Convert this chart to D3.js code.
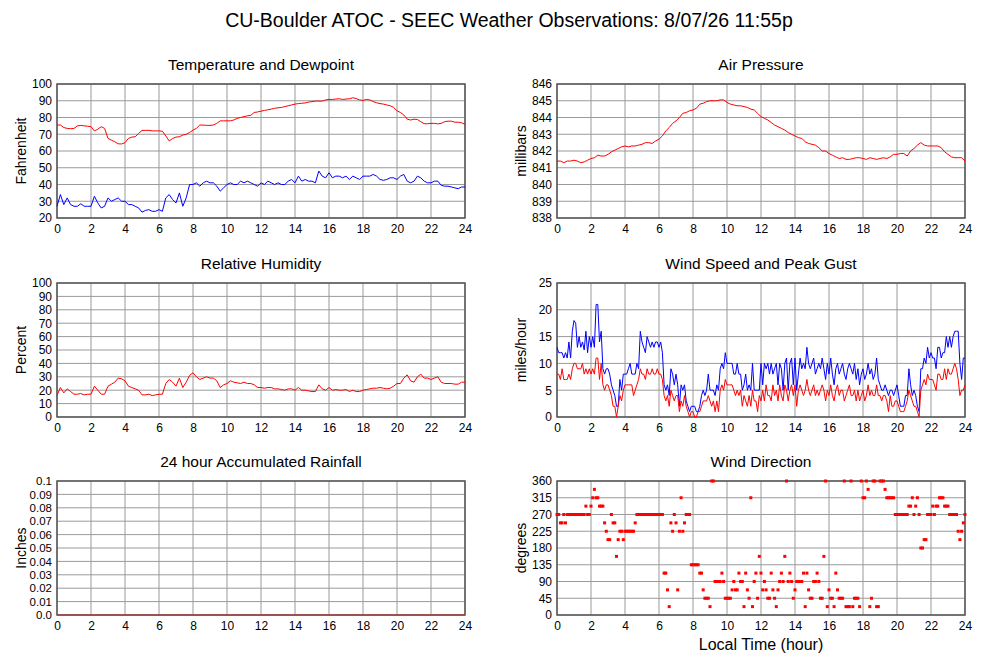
<!DOCTYPE html>
<html>
<head>
<meta charset="utf-8">
<script src="https://cdn.jsdelivr.net/npm/d3@7"></script>
<style>
  body { margin: 0; background: #fff; }
  svg { font-family: "Liberation Sans", Arial, sans-serif; }
  .grid line { stroke: #9a9a9a; stroke-width: 1; }
  .frame { fill: none; stroke: #555; stroke-width: 1.5; }
  .tick text { font-size: 12px; fill: #000; }
</style>
</head>
<body>
<div id="chart"></div>
<script>
// hours 0..24 on the x axis, each series evenly spaced over the day
const hourTicks = [0, 2, 4, 6, 8, 10, 12, 14, 16, 18, 20, 22, 24];

// temperature, every 0.2 h (F)
const temperature = [75.5, 75.5, 74, 73.5, 73.3, 73.5, 75, 75.3, 75, 74.8,
  74.5, 72, 73, 74.5, 73.5, 67.5, 66.5, 65.5, 64.3, 64.2,
  65, 67.5, 68.3, 68.5, 70.5, 72.3, 72.3, 72.3, 72, 72,
  72, 71.8, 69, 66, 67.5, 68.3, 68.5, 69.5, 70, 71,
  72.5, 73.5, 75.5, 75.5, 75.3, 75.3, 75.5, 76.5, 78, 78,
  78, 78, 78.5, 79.5, 80, 80.5, 81, 81.3, 83, 83.3,
  83.8, 84.2, 84.6, 85, 85.5, 85.8, 86, 86.5, 87, 87.5,
  88, 88.3, 88.5, 88.7, 89.2, 89.5, 89.8, 89.8, 89.8, 90.5,
  90.8, 90.8, 91, 91.2, 90.8, 91, 91.2, 91.8, 91.3, 90.5,
  90.2, 90.8, 90.5, 89.5, 88.8, 88.3, 88, 87.5, 87, 86,
  84, 83, 81.5, 79, 78.5, 79, 78.8, 77.5, 76.3, 76.3,
  76.5, 76.5, 76.2, 76.5, 77.5, 77.8, 77.8, 77.2, 77.2, 76.8, 76];

// dewpoint, every 0.2 h (F)
const dewpoint = [27, 34, 28, 32, 28, 27, 27, 28.5, 27, 27,
  27, 33, 29, 26, 27, 32, 30, 31, 32, 30,
  30, 28, 28, 27, 26, 23.5, 24.5, 25, 24, 24,
  25, 24, 32, 34, 31, 29, 35, 27, 32, 40,
  40, 41, 39, 41, 42, 41, 41, 39, 36, 38,
  40, 41, 40, 40, 42, 41, 42, 41, 40, 39,
  41, 40, 42, 41, 40, 41, 40, 40, 42, 43,
  41, 45, 42, 43, 42, 42, 41, 48, 45, 44,
  47, 44, 45, 45, 44, 45, 43, 45, 44, 43,
  45, 45, 45, 46, 45, 43, 42.5, 43, 44, 44,
  43, 45, 46, 42, 41, 42, 45, 44, 42, 41,
  41, 42, 42, 39.5, 39, 39, 38.5, 38, 37.5, 38.5, 38.5];

// station pressure, every 0.2 h (mb)
const pressure = [841.4, 841.4, 841.3, 841.4, 841.4, 841.45, 841.4, 841.3, 841.35, 841.45,
  841.55, 841.6, 841.75, 841.7, 841.7, 841.8, 841.95, 842.05, 842.15, 842.25,
  842.3, 842.25, 842.3, 842.3, 842.35, 842.4, 842.5, 842.5, 842.45, 842.6,
  842.7, 842.9, 843.2, 843.4, 843.65, 843.8, 844, 844.25, 844.3, 844.4,
  844.45, 844.55, 844.8, 844.85, 844.95, 845, 845, 845, 845.05, 845.05,
  844.9, 844.8, 844.75, 844.7, 844.7, 844.65, 844.6, 844.5, 844.45, 844.25,
  844.05, 843.95, 843.85, 843.7, 843.55, 843.45, 843.35, 843.25, 843.1, 843,
  842.9, 842.8, 842.75, 842.55, 842.45, 842.4, 842.35, 842.2, 842, 842,
  841.85, 841.75, 841.65, 841.55, 841.6, 841.5, 841.5, 841.55, 841.6, 841.6,
  841.55, 841.5, 841.6, 841.55, 841.5, 841.55, 841.6, 841.55, 841.65, 841.8,
  841.8, 841.85, 841.85, 841.7, 842.0, 842.15, 842.35, 842.5, 842.35, 842.3,
  842.3, 842.3, 842.3, 842.2, 841.95, 841.8, 841.65, 841.6, 841.6, 841.6, 841.4];

// relative humidity, every 0.2 h (%)
const humidity = [16, 22, 18, 21, 19, 17, 17, 17.5, 16.5, 17,
  17, 23, 20, 17, 17, 23, 24.5, 26, 29, 28.5,
  27, 23, 22, 21, 20, 16.5, 16.5, 17, 16, 16.5,
  17, 17, 25, 28, 26, 23, 29, 22, 26, 31,
  33, 30, 28, 29, 30, 29, 29, 27, 22, 24,
  25, 27, 26, 25.5, 25, 26, 25, 25, 24, 22,
  22, 21.5, 22, 22, 21, 21, 20.5, 20, 21, 21,
  20, 22, 20, 20, 19.5, 19, 19, 24, 21, 20,
  22, 20, 20.5, 20, 20, 20.5, 19, 20, 19, 19,
  20, 20.5, 21, 21.5, 21.5, 22, 21.5, 21, 21.5, 23,
  25, 25, 29, 31.5, 27, 26, 30, 32, 29, 29,
  28, 29, 30, 26, 25, 25, 25, 24.5, 24.5, 26, 26];

// wind speed and peak gust, every 0.1 h (mph)
const windSpeed = [8, 8, 7, 9, 7, 7, 7, 8, 7, 9,
  10, 10, 9, 9, 9, 10, 8, 9, 8, 9,
  8, 9, 8, 11, 11, 7, 10, 6, 5, 6,
  6, 5, 4, 2, 2, 0, 2, 4, 3, 5,
  6, 6, 6, 6, 6, 4, 5, 6, 7, 9,
  8, 8, 7, 9, 8, 8, 9, 8, 8, 9,
  8, 8, 7, 4, 3, 4, 2, 5, 4, 3,
  4, 4, 1, 3, 2, 4, 2, 1, 0, 1,
  1, 0, 0, 1, 1, 2, 3, 3, 3, 4,
  3, 2, 3, 1, 3, 1, 5, 6, 5, 7,
  6, 6, 6, 6, 5, 4, 5, 4, 5, 2,
  4, 3, 2, 4, 2, 5, 3, 3, 1, 4,
  3, 5, 3, 6, 4, 4, 3, 6, 4, 5,
  3, 6, 4, 3, 6, 5, 3, 5, 6, 4,
  6, 2, 5, 6, 5, 4, 5, 7, 5, 4,
  5, 6, 4, 5, 4, 5, 6, 5, 3, 5,
  4, 6, 4, 3, 5, 6, 4, 5, 5, 3,
  4, 5, 6, 4, 4, 5, 3, 5, 3, 4,
  5, 3, 4, 6, 4, 5, 4, 4, 6, 4,
  4, 3, 4, 4, 3, 1, 4, 2, 2, 3,
  3, 2, 1, 1, 1, 2, 3, 5, 4, 3,
  2, 2, 1, 0, 5, 6, 7, 6, 8, 7,
  7, 7, 6, 5, 8, 8, 7, 7, 9, 7,
  9, 8, 8, 9, 10, 9, 7, 4, 5, 5, 6];

const windGust = [13, 12, 12, 12, 11, 12, 11, 14, 11, 16,
  18, 17.5, 13, 15, 13, 14, 12.5, 16, 12, 15,
  13, 15, 13, 21, 21, 14, 16, 9, 8, 9,
  9, 8, 6, 5, 4, 2, 2, 7, 5, 8,
  8, 8, 9, 10, 8, 8, 8, 10, 9, 16,
  14, 13, 12, 15, 14, 13, 14, 13, 14, 14,
  13, 14, 12, 6, 5, 6, 4, 9, 8, 6,
  8, 6, 2, 6, 5, 6, 3, 2, 1, 2,
  2, 2, 1, 1, 2, 4, 5, 4, 5, 8,
  5, 5, 5, 4, 6, 5, 9, 10, 9, 12,
  10, 10, 10, 10, 8, 8, 10, 8, 8, 5,
  6, 8, 5, 6, 5, 10, 5, 5, 5, 5,
  10, 6, 10, 9, 10, 8, 10, 8, 9, 10,
  6, 10, 9, 5, 10, 11, 5, 10, 11, 6,
  11, 5, 8, 11, 9, 10, 9, 13, 10, 9,
  10, 11, 8, 9, 10, 9, 11, 9, 7, 10,
  8, 11, 8, 6, 9, 10, 8, 9, 10, 8,
  7, 9, 10, 9, 8, 10, 7, 9, 6, 8,
  9, 7, 8, 10, 8, 9, 7, 8, 11, 7,
  6, 5, 5, 6, 5, 4, 5, 5, 4, 5,
  6, 4, 2, 2, 2, 4, 4, 9, 6, 4,
  5, 4, 2, 1, 9, 9, 11, 10, 13, 11,
  12, 11, 11, 9, 13, 13, 11, 12, 12, 15,
  13, 15, 13, 15, 16, 16, 16, 10, 7, 11, 11];

// wind direction, every 0.1 h (degrees)
const windDir = [270, 270, 247.5, 247.5, 270, 247.5, 270, 270, 270, 270,
  270, 270, 270, 270, 270, 270, 270, 292.5, 270, 270,
  292.5, 315, 337.5, 315, 315, 292.5, 292.5, 292.5, 247.5, 225,
  202.5, 202.5, 270, 247.5, 247.5, 157.5, 202.5, 225, 225, 202.5,
  225, 225, 225, 225, 225, 225, 247.5, 270, 270, 270,
  270, 270, 270, 270, 270, 270, 270, 270, 270, 270,
  270, 270, 270, 112.5, 112.5, 67.5, 22.5, 247.5, 225, 270,
  247.5, 67.5, 225, 315, 225, 247.5, 270, 270, 270, 135,
  135, 135, 135, 135, 112.5, 112.5, 67.5, 45, 45, 45,
  22.5, 360, 360, 90, 90, 90, 90, 112.5, 90, 45,
  45, 45, 45, 67.5, 90, 67.5, 67.5, 112.5, 90, 90,
  22.5, 112.5, 67.5, 45, 315, 22.5, 90, 112.5, 45, 157.5,
  112.5, 67.5, 90, 67.5, 45, 45, 112.5, 67.5, 45, 22.5,
  67.5, 90, 112.5, 90, 157.5, 360, 90, 112.5, 90, 45,
  67.5, 90, 90, 90, 90, 112.5, 22.5, 112.5, 67.5, 45,
  45, 90, 90, 112.5, 90, 45, 45, 157.5, 360, 22.5,
  67.5, 45, 45, 22.5, 112.5, 67.5, 45, 45, 45, 360,
  22.5, 22.5, 22.5, 360, 22.5, 45, 45, 45, 22.5, 360,
  315, 315, 360, 337.5, 22.5, 45, 360, 360, 22.5, 22.5,
  360, 360, 360, 337.5, 315, 315, 315, 315, 315, 270,
  270, 270, 270, 270, 270, 270, 270, 292.5, 292.5, 315,
  270, 292.5, 315, 270, 180, 180, 202.5, 202.5, 270, 270,
  270, 292.5, 270, 292.5, 292.5, 315, 315, 315, 292.5, 292.5,
  292.5, 270, 270, 270, 270, 270, 225, 202.5, 225, 247.5, 270];

// 24 hour accumulated rain, hourly (in)
const rainfall = [0, 0, 0, 0, 0, 0, 0, 0, 0, 0, 0, 0, 0, 0, 0, 0, 0, 0, 0, 0, 0, 0, 0, 0, 0];

const tempTicks = [20, 30, 40, 50, 60, 70, 80, 90, 100];
const pressTicks = [838, 839, 840, 841, 842, 843, 844, 845, 846];
const rhTicks = [0, 10, 20, 30, 40, 50, 60, 70, 80, 90, 100];
const windTicks = [0, 5, 10, 15, 20, 25];
const dirTicks = [0, 45, 90, 135, 180, 225, 270, 315, 360];
const rainTicks = [0, 0.01, 0.02, 0.03, 0.04, 0.05, 0.06, 0.07, 0.08, 0.09, 0.1];

const width = 1000, height = 660;
const svg = d3.select("#chart").append("svg")
    .attr("width", width)
    .attr("height", height);

svg.append("text")
    .attr("x", 509).attr("y", 27)
    .attr("text-anchor", "middle")
    .attr("font-size", "19.5px")
    .text("CU-Boulder ATOC - SEEC Weather Observations: 8/07/26 11:55p");

const plotW = 408, plotH = 134;
const colX = [57, 557];
const rowY = [84, 283, 481];

// pairs each value with its hour of day
function asSeries(values) {
    const step = 24 / (values.length - 1);
    return values.map((v, i) => ({ h: i * step, v: v }));
}

function panel(col, row, title, yLabel, yTicks, yFormat, tickSize) {
    const g = svg.append("g")
        .attr("transform", `translate(${colX[col]},${rowY[row]})`);
    const x = d3.scaleLinear().domain([0, 24]).range([0, plotW]);
    const y = d3.scaleLinear().domain(d3.extent(yTicks)).range([plotH, 0]);

    g.append("g").attr("class", "grid")
        .selectAll("line.h").data(yTicks).enter().append("line")
        .attr("x1", 0).attr("x2", plotW)
        .attr("y1", d => y(d)).attr("y2", d => y(d));
    g.append("g").attr("class", "grid")
        .selectAll("line.v").data(hourTicks).enter().append("line")
        .attr("y1", 0).attr("y2", plotH)
        .attr("x1", d => x(d)).attr("x2", d => x(d));

    const yAxis = g.append("g")
        .call(d3.axisLeft(y).tickValues(yTicks).tickFormat(yFormat).tickSize(0).tickPadding(5));
    yAxis.select(".domain").remove();
    yAxis.selectAll("text").style("font-size", tickSize || "12px");

    const xAxis = g.append("g")
        .attr("transform", `translate(0,${plotH})`)
        .call(d3.axisBottom(x).tickValues(hourTicks).tickFormat(d3.format("d")).tickSize(0).tickPadding(6));
    xAxis.select(".domain").remove();

    g.append("text")
        .attr("x", plotW / 2).attr("y", -14)
        .attr("text-anchor", "middle")
        .attr("font-size", "15.5px")
        .text(title);

    g.append("text")
        .attr("transform", `translate(-31,${plotH / 2}) rotate(-90)`)
        .attr("text-anchor", "middle")
        .attr("font-size", "14px")
        .text(yLabel);

    // frame goes under the data so lines on the edge stay visible
    g.append("rect").attr("class", "frame")
        .attr("width", plotW).attr("height", plotH);

    return { g, x, y };
}

function drawLine(p, values, color) {
    const line = d3.line().x(d => p.x(d.h)).y(d => p.y(d.v));
    p.g.append("path")
        .datum(asSeries(values))
        .attr("fill", "none")
        .attr("stroke", color)
        .attr("stroke-width", 1)
        .attr("d", line);
}

const pTemp = panel(0, 0, "Temperature and Dewpoint", "Fahrenheit", tempTicks, d3.format("d"));
drawLine(pTemp, temperature, "#ff0000");
drawLine(pTemp, dewpoint, "#0000ff");

const pPress = panel(1, 0, "Air Pressure", "millibars", pressTicks, d3.format("d"));
drawLine(pPress, pressure, "#ff0000");

const pRh = panel(0, 1, "Relative Humidity", "Percent", rhTicks, d3.format("d"));
drawLine(pRh, humidity, "#ff0000");

const pWind = panel(1, 1, "Wind Speed and Peak Gust", "miles/hour", windTicks, d3.format("d"));
drawLine(pWind, windGust, "#0000ff");
drawLine(pWind, windSpeed, "#ff0000");

const pRain = panel(0, 2, "24 hour Accumulated Rainfall", "Inches", rainTicks,
    d => d === 0 ? "0.0" : d === 0.1 ? "0.1" : d3.format(".2f")(d), "11.5px");
drawLine(pRain, rainfall, "#c83030");

const pDir = panel(1, 2, "Wind Direction", "degrees", dirTicks, d3.format("d"));
pDir.g.selectAll("rect.dot")
    .data(asSeries(windDir))
    .enter().append("rect")
    .attr("class", "dot")
    .attr("x", d => pDir.x(d.h) - 1.5)
    .attr("y", d => pDir.y(d.v) - 1.5)
    .attr("width", 3).attr("height", 3)
    .attr("fill", "#ff0000");

svg.append("text")
    .attr("x", colX[1] + plotW / 2).attr("y", 650)
    .attr("text-anchor", "middle")
    .attr("font-size", "16px")
    .text("Local Time (hour)");
</script>
</body>
</html>
